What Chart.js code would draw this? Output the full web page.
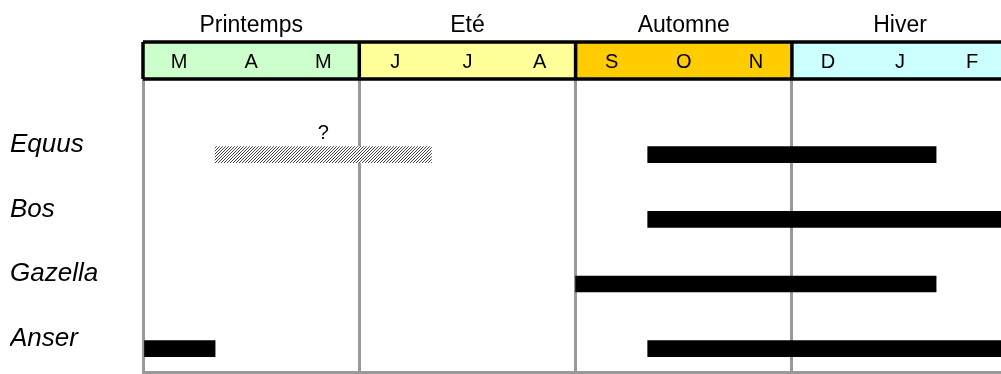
<!DOCTYPE html>
<html>
<head>
<meta charset="utf-8">
<script src="https://cdn.jsdelivr.net/npm/chart.js@4.4.0/dist/chart.umd.min.js"></script>
<style>
  html, body { margin: 0; padding: 0; background: #fff; }
  #wrap { width: 1001px; height: 374px; }
</style>
</head>
<body>
<div id="wrap"><canvas id="chart" width="1001" height="374"></canvas></div>
<script>
var seasons = ['Printemps', 'Eté', 'Automne', 'Hiver'];
var seasonColors = ['#ccffcc', '#ffff99', '#ffcc00', '#ccffff'];
var months = ['M', 'A', 'M', 'J', 'J', 'A', 'S', 'O', 'N', 'D', 'J', 'F'];
var genera = ['Equus', 'Bos', 'Gazella', 'Anser'];

// présence : une entrée par barre (mois de début, mois de fin, mars = 0)
var presenceGenus = ['Equus', 'Bos', 'Gazella', 'Anser', 'Anser'];
var presenceStart = [7, 7, 6, 0, 7];
var presenceEnd   = [11, 12, 11, 1, 12];

// présence incertaine (hachurée, avec "?")
var uncertainGenus = ['Equus'];
var uncertainStart = [1];
var uncertainEnd   = [4];

var FONT = '"Liberation Sans", Arial, sans-serif';
var GRID = '#999999';

function rowOf(name) { return genera.indexOf(name) + 1; }

function makeHatch() {
  var c = document.createElement('canvas');
  c.width = 6; c.height = 6;
  var g = c.getContext('2d');
  g.fillStyle = '#fff';
  g.fillRect(0, 0, 6, 6);
  g.strokeStyle = '#444';
  g.lineWidth = 1;
  for (var o = -6; o <= 12; o += 3) {
    g.beginPath();
    g.moveTo(o, 6);
    g.lineTo(o + 6, 0);
    g.stroke();
  }
  return document.getElementById('chart').getContext('2d').createPattern(c, 'repeat');
}

var presenceData = presenceGenus.map(function(g, i) {
  return { x: [presenceStart[i], presenceEnd[i]], y: rowOf(g) };
});
var uncertainData = uncertainGenus.map(function(g, i) {
  return { x: [uncertainStart[i], uncertainEnd[i]], y: rowOf(g) };
});

// en-tête saisons / mois + "?"
var headerPlugin = {
  id: 'header',
  afterDraw: function(chart) {
    var ctx = chart.ctx;
    var x = chart.scales.x, y = chart.scales.y;
    var top = 42, bottom = chart.chartArea.top;
    ctx.save();
    seasons.forEach(function(s, i) {
      var x0 = x.getPixelForValue(i * 3), x1 = x.getPixelForValue(i * 3 + 3);
      ctx.fillStyle = seasonColors[i];
      ctx.fillRect(x0, top, x1 - x0, bottom - top);
      ctx.fillStyle = '#000';
      ctx.textAlign = 'center';
      ctx.textBaseline = 'alphabetic';
      ctx.font = '23px ' + FONT;
      ctx.fillText(s, (x0 + x1) / 2, 32);
    });
    ctx.font = '20px ' + FONT;
    months.forEach(function(m, i) {
      ctx.fillText(m, x.getPixelForValue(i + 0.5), 68);
    });
    ctx.strokeStyle = '#000';
    ctx.lineWidth = 3.5;
    ctx.beginPath();
    ctx.moveTo(x.getPixelForValue(0), top);
    ctx.lineTo(chart.width + 5, top);
    ctx.moveTo(x.getPixelForValue(0), bottom);
    ctx.lineTo(chart.width + 5, bottom);
    for (var i = 0; i < seasons.length; i++) {
      var px = x.getPixelForValue(i * 3);
      ctx.moveTo(px, top);
      ctx.lineTo(px, bottom);
    }
    ctx.stroke();
    ctx.font = '20px ' + FONT;
    uncertainGenus.forEach(function(g, i) {
      var cx = x.getPixelForValue((uncertainStart[i] + uncertainEnd[i]) / 2);
      ctx.fillText('?', cx, y.getPixelForValue(rowOf(g)) - 16);
    });
    ctx.restore();
  }
};

new Chart(document.getElementById('chart'), {
  type: 'bar',
  data: {
    datasets: [
      {
        label: 'présence',
        data: presenceData,
        backgroundColor: '#000',
        barThickness: 16,
        grouped: false
      },
      {
        label: 'incertain',
        data: uncertainData,
        backgroundColor: makeHatch(),
        barThickness: 16,
        grouped: false
      }
    ]
  },
  options: {
    responsive: false,
    devicePixelRatio: 1,
    animation: false,
    indexAxis: 'y',
    layout: { padding: { top: 79, left: 10, right: 0, bottom: 1.5 } },
    plugins: { legend: { display: false }, tooltip: { enabled: false } },
    scales: {
      x: {
        type: 'linear',
        min: 0,
        max: 11.9,
        z: 1,
        grid: { color: GRID, lineWidth: 3, drawTicks: false },
        border: { color: GRID, width: 3 },
        ticks: { display: false },
        afterBuildTicks: function(scale) {
          scale.ticks = seasons.map(function(s, i) { return { value: i * 3 }; });
        }
      },
      y: {
        type: 'linear',
        reverse: true,
        offset: false,
        min: -0.17,
        max: 4.368,
        z: 1,
        grid: { display: false, drawTicks: false, offset: false },
        border: { color: GRID, width: 3 },
        ticks: {
          crossAlign: 'far',
          padding: 0,
          labelOffset: -10,
          color: '#000',
          font: { family: FONT, size: 26, style: 'italic' },
          callback: function(v) { return genera[v - 1] || ''; }
        },
        afterBuildTicks: function(scale) {
          scale.ticks = genera.map(function(g, i) { return { value: i + 1 }; });
        },
        afterFit: function(scale) {
          scale.width = 133;
          scale.paddingTop = 0;
          scale.paddingBottom = 0;
        }
      }
    }
  },
  plugins: [headerPlugin]
});
</script>
</body>
</html>
